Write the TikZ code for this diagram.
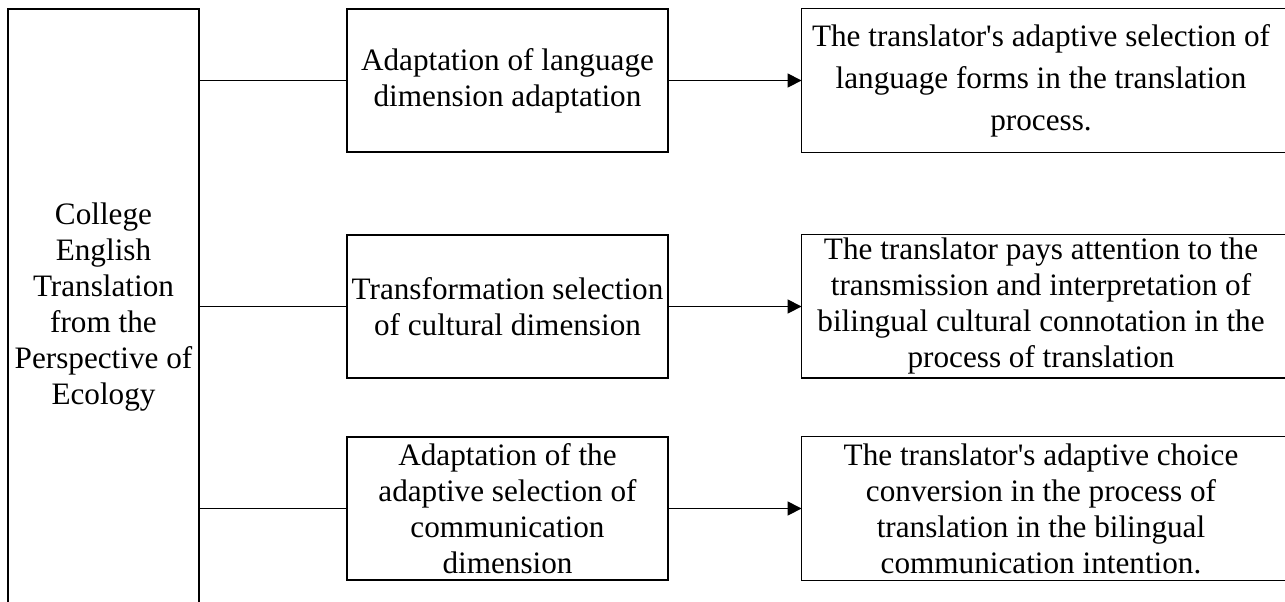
\documentclass[tikz,border=0pt]{standalone}
\usepackage{fontspec}
\setmainfont{Liberation Serif}[Ligatures=TeXOff]
\usetikzlibrary{arrows.meta,calc}
\begin{document}
\begin{tikzpicture}[x=0.5pt,y=-0.5pt,
  every node/.style={font=\fontsize{15.6pt}{18pt}\selectfont, align=center, inner sep=0pt},
  boxline/.style={draw=black, line width=0.6pt},
  leftbox/.style={boxline, minimum width=95.5pt, minimum height=298pt},
  midbox/.style={boxline, minimum width=160.5pt, minimum height=71.5pt},
  rtext/.style={minimum width=239pt, minimum height=71.5pt},
  conn/.style={draw=black, line width=0.6pt},
  arr/.style={conn, -{Triangle[length=7pt,width=7pt]}}
]
\useasboundingbox (0,0) rectangle (1285,601);
\clip (0,0) rectangle (1285,601);
\fill[white] (0,0) rectangle (1285,601);

\node[leftbox] (L) at (103.5,307) {College\\English\\Translation\\from the\\Perspective of\\Ecology};

\node[midbox] (m1) at (507.5,80.5) {Adaptation of language\\dimension adaptation};
\node[midbox] (m2) at (507.5,306.5) {Transformation selection\\of cultural dimension};
\node[midbox] (m3) at (507.5,508.5) {Adaptation of the\\adaptive selection of\\communication\\dimension};

\node[rtext, font=\fontsize{15.6pt}{21pt}\selectfont] (r1) at (1041,80.5) {The translator's adaptive selection of\\language forms in the translation\\process.};
\node[rtext] (r2) at (1041,306) {The translator pays attention to the\\transmission and interpretation of\\bilingual cultural connotation in the\\process of translation};
\node[rtext] (r3) at (1041,508.5) {The translator's adaptive choice\\conversion in the process of\\translation in the bilingual\\communication intention.};

\foreach \r in {r1,r2,r3}{
  \draw[boxline] (\r.north west) rectangle ($(\r.south east)+(14,0)$);
}

\draw[conn] (L.east |- m1.west) -- (m1.west);
\draw[conn] (L.east |- m2.west) -- (m2.west);
\draw[conn] (L.east |- m3.west) -- (m3.west);

\draw[arr] (m1.east) -- (m1.east -| r1.west);
\draw[arr] (m2.east) -- (m2.east -| r2.west);
\draw[arr] (m3.east) -- (m3.east -| r3.west);
\end{tikzpicture}
\end{document}
